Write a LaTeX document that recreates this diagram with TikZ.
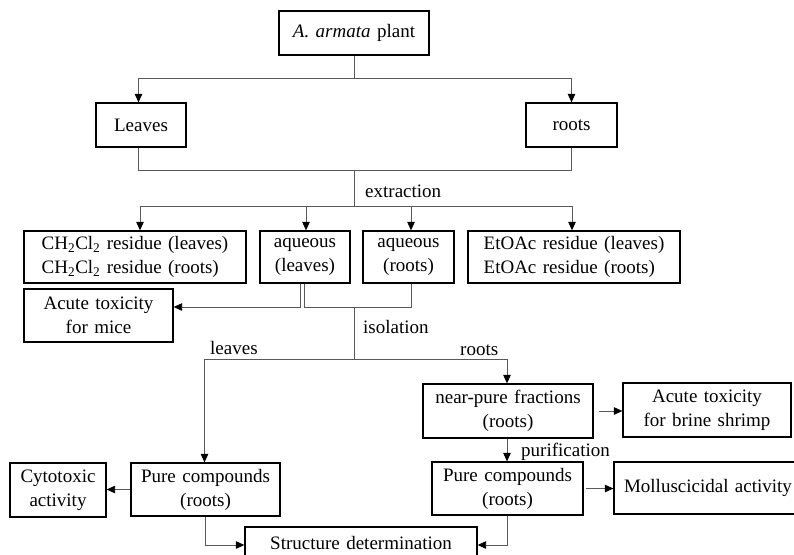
\documentclass[tikz,border=0pt]{standalone}
\usepackage{fontspec}
\setmainfont{Liberation Serif}
\usetikzlibrary{arrows.meta}
\newcommand{\myboxfont}{\fontsize{19}{24}\selectfont\spaceskip 0.34em plus 0.1em\relax}
\begin{document}
\begin{tikzpicture}[x=1pt,y=-1pt,
  box/.style={draw=black,line width=1.3pt,inner sep=2pt,align=center,font=\myboxfont},
  lbl/.style={inner sep=0pt,font=\fontsize{19}{24}\selectfont},
  conn/.style={draw=black!65,line width=0.9pt},
  arr/.style={conn,-{Triangle[length=8.5pt,width=7.5pt,color=black]}}]
\useasboundingbox (0,0) rectangle (794,554);
\clip (0,0) rectangle (794,554);
% nodes
\node[box,minimum width=150pt,minimum height=44pt] (plant) at (354,33) {\textit{A. armata} plant};
\node[box,minimum width=90pt,minimum height=44pt] (leaves) at (141,125) {Leaves};
\node[box,minimum width=91pt,minimum height=44pt] (roots) at (571.5,125) {roots};
\node[box,minimum width=222pt,minimum height=52pt,align=left] (ch) at (135,257) {CH\textsubscript{2}Cl\textsubscript{2} residue (leaves)\\CH\textsubscript{2}Cl\textsubscript{2} residue (roots)};
\node[box,minimum width=90pt,minimum height=52pt] (aqL) at (305,257) {aqueous\\(leaves)};
\node[box,minimum width=91pt,minimum height=52pt] (aqR) at (408.5,257) {aqueous\\(roots)};
\node[box,minimum width=212pt,minimum height=52pt,align=left] (etoac) at (574,257) {EtOAc residue (leaves)\\EtOAc residue (roots)};
\node[box,minimum width=149pt,minimum height=53pt] (mice) at (98.5,315.5) {Acute toxicity\\for mice};
\node[box,minimum width=149pt,minimum height=53pt] (pureL) at (205.5,489.5) {Pure compounds\\(roots)};
\node[box,minimum width=96pt,minimum height=54pt] (cyto) at (58,490) {Cytotoxic\\activity};
\node[box,minimum width=170pt,minimum height=54pt] (near) at (508,411) {near-pure fractions\\(roots)};
\node[box,minimum width=168pt,minimum height=54pt] (brine) at (707,410) {Acute toxicity\\for brine shrimp};
\node[box,minimum width=151pt,minimum height=53pt] (pureR) at (507.5,488.5) {Pure compounds\\(roots)};
\node[box,minimum width=188pt,minimum height=52pt] (mollu) at (708,488) {Molluscicidal activity};
\node[box,minimum width=232pt,minimum height=32pt] (struct) at (361,543) {Structure determination};
% labels
\node[lbl,anchor=base west] (lext) at (365,197) {extraction};
\node[lbl,anchor=base west] (liso) at (363,333) {isolation};
\node[lbl,anchor=base west] (lleaves) at (210,354) {leaves};
\node[lbl,anchor=base west] (lroots) at (460,355) {roots};
\node[lbl,anchor=base west] (lpur) at (521,456) {purification};
% connectors
\coordinate (j0) at (354,78);
\draw[conn] (plant.south) -- (j0);
\draw[arr] (j0) -| ([xshift=-2.5pt]leaves.north);
\draw[arr] (j0) -| (roots.north);
\coordinate (j1) at (354,170);
\draw[conn] ([xshift=-2.5pt]leaves.south) |- (j1);
\draw[conn] (roots.south) |- (j1);
\coordinate (j2) at (354,206);
\draw[conn] (j1) -- (j2);
\draw[arr] (j2) -| ([xshift=5pt]ch.north);
\draw[arr] (j2) -| ([xshift=1pt]aqL.north);
\draw[arr] (j2) -| ([xshift=2.5pt]aqR.north);
\draw[arr] (j2) -| ([xshift=-2pt]etoac.north);
\coordinate (k1) at (300,307);
\draw[arr] ([xshift=-5pt]aqL.south) |- (mice.east |- k1);
\draw[conn] ([xshift=-1pt]aqL.south) |- ([xshift=2.5pt]aqR.south |- k1) -- ([xshift=2.5pt]aqR.south);
\coordinate (k3) at (354,307);
\coordinate (k4) at (354,359);
\draw[conn] (k3) -- (k4);
\draw[arr] (k4) -| ([xshift=-1pt]pureL.north);
\draw[arr] (k4) -| ([xshift=-1pt]near.north);
\draw[arr] (pureL.west) -- (pureL.west -| cyto.east);
\draw[arr] ([xshift=5pt]near.east) -- (near.east -| brine.west);
\draw[arr] ([xshift=-1pt]near.south) -- ([xshift=-1pt]near.south |- pureR.north);
\draw[arr] ([xshift=2pt]pureR.east) -- (pureR.east -| mollu.west);
\draw[arr] ([xshift=-0.5pt]pureL.south) |- ([yshift=-2pt]struct.west);
\draw[arr] (pureR.south) |- ([yshift=-2pt]struct.east);
\end{tikzpicture}
\end{document}
